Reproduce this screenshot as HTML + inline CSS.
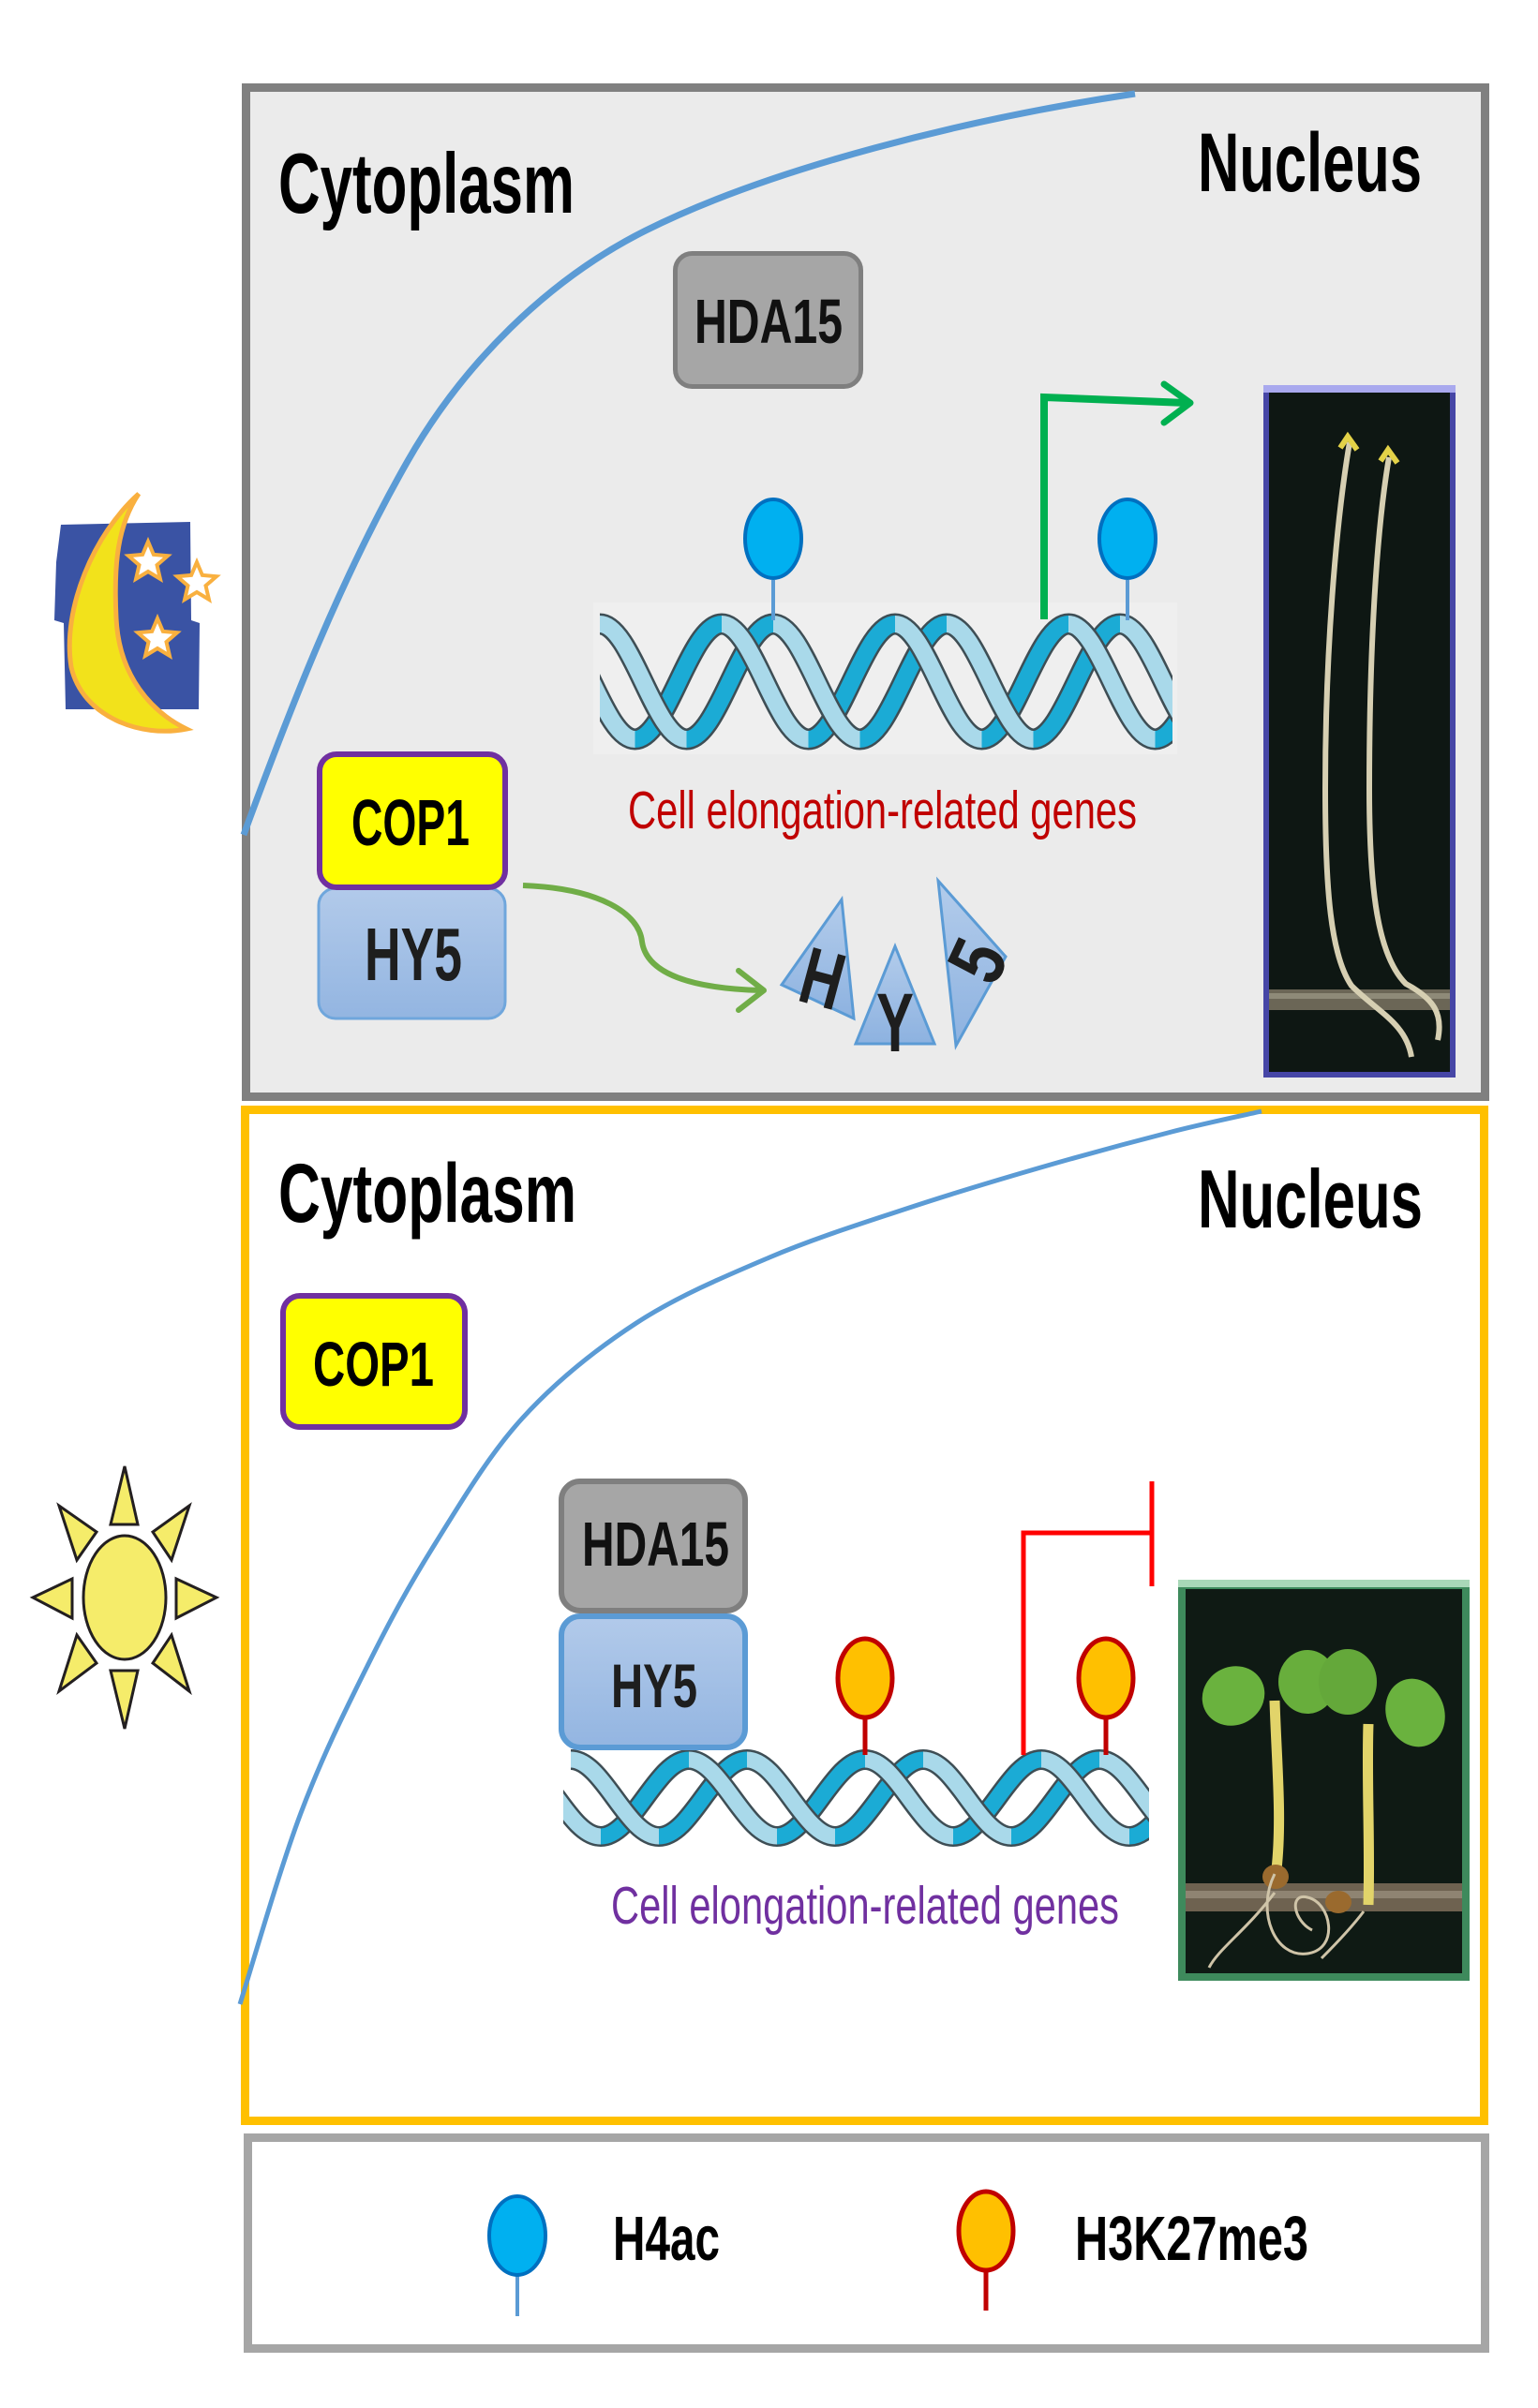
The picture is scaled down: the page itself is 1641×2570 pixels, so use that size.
<!DOCTYPE html>
<html><head><meta charset="utf-8"><style>
html,body{margin:0;padding:0;background:#fff;}
svg{display:block;}
text{font-family:"Liberation Sans",Arial,sans-serif;}
.b{font-weight:bold;}
</style></head><body>
<svg width="1641" height="2570" viewBox="0 0 1641 2570" xmlns="http://www.w3.org/2000/svg">
<defs>
<linearGradient id="hy5g" x1="0" y1="0" x2="0" y2="1"><stop offset="0" stop-color="#B2CAEA"/><stop offset="1" stop-color="#93B5E1"/></linearGradient>
<linearGradient id="trig" x1="0" y1="0" x2="0" y2="1"><stop offset="0" stop-color="#B3CCEB"/><stop offset="1" stop-color="#8DB2E0"/></linearGradient>
<clipPath id="clipTop"><rect x="640" y="640" width="611" height="170"/></clipPath>
<clipPath id="clipBot"><rect x="601" y="1860" width="625" height="115"/></clipPath>
<g id="tL" fill="none">
<path d="M585,666 C618.7,666 643.8,789 677.5,789"/>
<path d="M640,666 C673.7,666 698.8,789 732.5,789"/>
<path d="M770,666 C803.7,666 828.8,789 862.5,789"/>
<path d="M825,666 C858.7,666 883.8,789 917.5,789"/>
<path d="M955,666 C988.7,666 1013.8,789 1047.5,789"/>
<path d="M1010,666 C1043.7,666 1068.8,789 1102.5,789"/>
<path d="M1140,666 C1173.7,666 1198.8,789 1232.5,789"/>
<path d="M1195,666 C1228.7,666 1253.8,789 1287.5,789"/>
</g>
<g id="tD" fill="none">
<path d="M677.5,789 C711.2,789 736.3,666 770,666"/>
<path d="M732.5,789 C766.2,789 791.3,666 825,666"/>
<path d="M862.5,789 C896.2,789 921.3,666 955,666"/>
<path d="M917.5,789 C951.2,789 976.3,666 1010,666"/>
<path d="M1047.5,789 C1081.2,789 1106.3,666 1140,666"/>
<path d="M1102.5,789 C1136.2,789 1161.3,666 1195,666"/>
<path d="M1232.5,789 C1266.2,789 1291.3,666 1325,666"/>
</g>
<g id="bL" fill="none">
<path d="M547,1878 C581.2,1878 606.8,1960 641,1960"/>
<path d="M609,1878 C643.2,1878 668.8,1960 703,1960"/>
<path d="M735,1878 C769.2,1878 794.8,1960 829,1960"/>
<path d="M797,1878 C831.2,1878 856.8,1960 891,1960"/>
<path d="M923,1878 C957.2,1878 982.8,1960 1017,1960"/>
<path d="M985,1878 C1019.2,1878 1044.8,1960 1079,1960"/>
<path d="M1111,1878 C1145.2,1878 1170.8,1960 1205,1960"/>
<path d="M1173,1878 C1207.2,1878 1232.8,1960 1267,1960"/>
</g>
<g id="bD" fill="none">
<path d="M641,1960 C675.2,1960 700.8,1878 735,1878"/>
<path d="M703,1960 C737.2,1960 762.8,1878 797,1878"/>
<path d="M829,1960 C863.2,1960 888.8,1878 923,1878"/>
<path d="M891,1960 C925.2,1960 950.8,1878 985,1878"/>
<path d="M1017,1960 C1051.2,1960 1076.8,1878 1111,1878"/>
<path d="M1079,1960 C1113.2,1960 1138.8,1878 1173,1878"/>
<path d="M1205,1960 C1239.2,1960 1264.8,1878 1299,1878"/>
</g>
<polygon id="star" points="0,-22 5.88,-8.09 20.92,-6.8 9.51,3.09 12.93,17.8 0,10 -12.93,17.8 -9.51,3.09 -20.92,-6.8 -5.88,-8.09"/>
</defs>

<!-- ================= TOP PANEL ================= -->
<rect x="262.5" y="93.5" width="1322" height="1077" fill="#EBEBEB" stroke="#808080" stroke-width="9"/>

<!-- blue membrane curve -->
<path d="M260,891 C310,755 363,618 435,492 C493.5,389.6 583.5,298.7 689,246 C823,179 1033,126.6 1211,100" fill="none" stroke="#5B9BD5" stroke-width="7"/>

<text x="297" y="227" class="b" font-size="91" textLength="316" lengthAdjust="spacingAndGlyphs" fill="#000">Cytoplasm</text>
<text x="1278" y="204" class="b" font-size="89" textLength="239" lengthAdjust="spacingAndGlyphs" fill="#000">Nucleus</text>

<!-- HDA15 top -->
<rect x="720.5" y="270.5" width="198" height="142" rx="18" fill="#A6A6A6" stroke="#7F7F7F" stroke-width="5"/>
<text x="741" y="366" class="b" font-size="67" textLength="158" lengthAdjust="spacingAndGlyphs" fill="#111">HDA15</text>

<!-- DNA top -->
<rect x="633" y="643" width="623" height="162" fill="#EFEFEF"/>
<g clip-path="url(#clipTop)" stroke-linecap="butt">
<use href="#tD" stroke="#3E4E55" stroke-width="23"/>
<use href="#tD" stroke="#1BABD5" stroke-width="18"/>
<use href="#tL" stroke="#3E4E55" stroke-width="23"/>
<use href="#tL" stroke="#A9D9EA" stroke-width="18"/>
</g>

<!-- green activation arrow -->
<path d="M1114,661 L1114,424 L1266,430" fill="none" stroke="#00B050" stroke-width="8"/>
<path d="M1242,410 L1270,430 L1242,451" fill="none" stroke="#00B050" stroke-width="7" stroke-linecap="round" stroke-linejoin="round"/>

<!-- H4ac lollipops top -->
<line x1="825" y1="619" x2="825" y2="662" stroke="#5B9BD5" stroke-width="4"/>
<ellipse cx="825" cy="575" rx="30" ry="42" fill="#00B0F0" stroke="#0070C0" stroke-width="4"/>
<line x1="1203" y1="619" x2="1203" y2="662" stroke="#5B9BD5" stroke-width="4"/>
<ellipse cx="1203" cy="575" rx="30" ry="42" fill="#00B0F0" stroke="#0070C0" stroke-width="4"/>

<text x="670" y="884" font-size="57" textLength="543" lengthAdjust="spacingAndGlyphs" fill="#C00000">Cell elongation-related genes</text>

<!-- HY5 + COP1 top -->
<rect x="340" y="948" width="199" height="139" rx="18" fill="url(#hy5g)" stroke="#6FA6DC" stroke-width="3"/>
<text x="389" y="1046" class="b" font-size="80" textLength="104" lengthAdjust="spacingAndGlyphs" fill="#1E1E1E">HY5</text>
<rect x="341" y="805" width="198" height="142" rx="18" fill="#FFFF00" stroke="#7030A0" stroke-width="6"/>
<text x="375" y="902" class="b" font-size="70" textLength="126" lengthAdjust="spacingAndGlyphs" fill="#000">COP1</text>

<!-- curved degradation arrow -->
<path d="M558,945 C640,948 682,975 685,1005 C690,1040 740,1055 812,1057" fill="none" stroke="#70AD47" stroke-width="6"/>
<path d="M788,1036 L815,1057 L788,1078" fill="none" stroke="#70AD47" stroke-width="6" stroke-linecap="round" stroke-linejoin="round"/>

<!-- HY5 fragments -->
<polygon points="898,960 911,1087 834,1051" fill="url(#trig)" stroke="#5B9BD5" stroke-width="3"/>
<polygon points="955,1010 997,1114 913,1114" fill="url(#trig)" stroke="#5B9BD5" stroke-width="3"/>
<polygon points="1001,940 1073,1021 1020,1116" fill="url(#trig)" stroke="#5B9BD5" stroke-width="3"/>
<text transform="translate(878,1043) rotate(15)" x="0" y="31" text-anchor="middle" class="b" font-size="86" textLength="44" lengthAdjust="spacingAndGlyphs" fill="#1E1E1E">H</text>
<text x="955" y="1122" text-anchor="middle" class="b" font-size="89" textLength="40" lengthAdjust="spacingAndGlyphs" fill="#1E1E1E">Y</text>
<text transform="translate(1042,1025) rotate(-65)" x="0" y="30" text-anchor="middle" class="b" font-size="84" textLength="38" lengthAdjust="spacingAndGlyphs" fill="#1E1E1E">5</text>

<!-- top photo (dark-grown seedlings) -->
<rect x="1348" y="411" width="205" height="739" fill="#0E1713"/>
<rect x="1351" y="414" width="199" height="733" fill="none" stroke="#4646A6" stroke-width="6"/>
<rect x="1348" y="411" width="205" height="8" fill="#A9A9EE"/>
<rect x="1354" y="1056" width="193" height="22" fill="#6B6656"/>
<rect x="1354" y="1060" width="193" height="6" fill="#8E8A78"/>
<path d="M1440,472 C1425,560 1414,700 1414,842 C1414,950 1420,1020 1442,1052 C1470,1080 1500,1092 1506,1128" fill="none" stroke="#D6CFB2" stroke-width="6"/>
<path d="M1482,488 C1468,570 1461,700 1461,842 C1461,950 1470,1020 1500,1050 C1530,1066 1540,1082 1534,1110" fill="none" stroke="#D6CFB2" stroke-width="6"/>
<path d="M1430,478 L1438,466 L1448,480" fill="none" stroke="#E3D248" stroke-width="6"/>
<path d="M1473,492 L1481,480 L1491,494" fill="none" stroke="#E3D248" stroke-width="6"/>

<!-- moon icon -->
<polygon points="65,560 203,557 204,662 213,665 212,757 70,757 68,665 58,662 60,600" fill="#3A53A4"/>
<path d="M148,527 C100,570 66,650 76,712 C88,765 150,788 199,778 C162,760 127,722 124,660 C121,600 126,560 148,527 Z" fill="#F2E21B" stroke="#F9B03F" stroke-width="5"/>
<use href="#star" transform="translate(158,600)" fill="#fff" stroke="#F9B03F" stroke-width="4"/>
<use href="#star" transform="translate(168,682)" fill="#fff" stroke="#F9B03F" stroke-width="4"/>
<use href="#star" transform="translate(210,622)" fill="#fff" stroke="#F9B03F" stroke-width="4"/>

<!-- ================= BOTTOM PANEL ================= -->
<rect x="261.5" y="1184.5" width="1322" height="1079" fill="#FFFFFF" stroke="#FFC000" stroke-width="9"/>

<path d="M256,2139 C266.8,2105 298.2,1995.5 321,1935 C343.8,1874.5 369.2,1823.8 393,1776 C416.8,1728.2 436.7,1691.7 464,1648 C491.3,1604.3 521.2,1553.3 557,1514 C592.8,1474.7 635,1440.7 679,1412 C723,1383.3 773.5,1362.2 821,1342 C868.5,1321.8 916.3,1306.8 964,1291 C1011.7,1275.2 1059.3,1260.8 1107,1247 C1154.7,1233.2 1210.2,1218.2 1250,1208 C1289.8,1197.8 1330,1189.7 1346,1186" fill="none" stroke="#5B9BD5" stroke-width="5"/>

<text x="297" y="1304" class="b" font-size="89" textLength="318" lengthAdjust="spacingAndGlyphs" fill="#000">Cytoplasm</text>
<text x="1278" y="1310" class="b" font-size="88" textLength="240" lengthAdjust="spacingAndGlyphs" fill="#000">Nucleus</text>

<rect x="302" y="1383" width="194" height="140" rx="18" fill="#FFFF00" stroke="#7030A0" stroke-width="6"/>
<text x="334" y="1479" class="b" font-size="67" textLength="129" lengthAdjust="spacingAndGlyphs" fill="#000">COP1</text>

<!-- DNA bottom -->
<g clip-path="url(#clipBot)">
<use href="#bD" stroke="#3E4E55" stroke-width="22"/>
<use href="#bD" stroke="#1BABD5" stroke-width="17"/>
<use href="#bL" stroke="#3E4E55" stroke-width="22"/>
<use href="#bL" stroke="#A9D9EA" stroke-width="17"/>
</g>

<!-- HDA15 / HY5 bottom -->
<rect x="599" y="1581" width="196" height="138" rx="20" fill="#A6A6A6" stroke="#7F7F7F" stroke-width="6"/>
<text x="621" y="1671" class="b" font-size="67" textLength="157" lengthAdjust="spacingAndGlyphs" fill="#111">HDA15</text>
<rect x="599" y="1725" width="196" height="140" rx="20" fill="url(#hy5g)" stroke="#5B9BD5" stroke-width="6"/>
<text x="652" y="1822" class="b" font-size="66" textLength="92" lengthAdjust="spacingAndGlyphs" fill="#1E1E1E">HY5</text>

<!-- H3K27me3 lollipops -->
<line x1="923" y1="1833" x2="923" y2="1873" stroke="#C00000" stroke-width="5"/>
<ellipse cx="923" cy="1791" rx="29" ry="42" fill="#FFC000" stroke="#C00000" stroke-width="5"/>
<line x1="1180" y1="1833" x2="1180" y2="1873" stroke="#C00000" stroke-width="5"/>
<ellipse cx="1180" cy="1791" rx="29" ry="42" fill="#FFC000" stroke="#C00000" stroke-width="5"/>

<!-- repression line -->
<path d="M1092,1873 L1092,1636 L1229,1636" fill="none" stroke="#FF0000" stroke-width="5"/>
<line x1="1229" y1="1581" x2="1229" y2="1693" stroke="#FF0000" stroke-width="5"/>

<text x="652" y="2053" font-size="57" textLength="542" lengthAdjust="spacingAndGlyphs" fill="#7030A0">Cell elongation-related genes</text>

<!-- bottom photo (light-grown seedlings) -->
<rect x="1257" y="1686" width="311" height="428" fill="#3E8A5C"/>
<rect x="1257" y="1686" width="311" height="8" fill="#A9D8B8"/>
<rect x="1265" y="1696" width="295" height="410" fill="#0F1A14"/>
<rect x="1265" y="2010" width="295" height="30" fill="#6E6250"/>
<rect x="1265" y="2018" width="295" height="8" fill="#8F8472"/>
<path d="M1360,1815 C1362,1880 1368,1940 1362,1995" fill="none" stroke="#E2D46A" stroke-width="11"/>
<path d="M1460,1840 C1458,1900 1462,1970 1460,2033" fill="none" stroke="#E2D46A" stroke-width="11"/>
<ellipse cx="1316" cy="1810" rx="34" ry="31" transform="rotate(-30 1316 1810)" fill="#6AB23E"/>
<ellipse cx="1395" cy="1795" rx="31" ry="34" fill="#68AE3C"/>
<ellipse cx="1438" cy="1795" rx="31" ry="35" fill="#64A83A"/>
<ellipse cx="1510" cy="1828" rx="31" ry="37" transform="rotate(-20 1510 1828)" fill="#6AB23E"/>
<ellipse cx="1361" cy="2003" rx="14" ry="13" fill="#9A6A2E"/>
<ellipse cx="1428" cy="2030" rx="14" ry="12" fill="#9A6A2E"/>
<path d="M1360,2000 C1340,2040 1360,2090 1395,2085 C1430,2080 1420,2030 1395,2025 C1375,2020 1380,2050 1400,2060 M1360,2020 C1330,2060 1300,2080 1290,2100 M1455,2040 C1440,2060 1420,2080 1410,2090" fill="none" stroke="#CFC4A8" stroke-width="3"/>

<!-- sun icon -->
<g fill="#F5EC6A" stroke="#231F20" stroke-width="3" stroke-linejoin="miter">
<polygon points="133,1565 118,1627 147,1627"/>
<polygon points="133,1845 118,1783 147,1783"/>
<polygon points="35,1705 77,1685 77,1727"/>
<polygon points="231,1705 188,1685 188,1727"/>
<polygon points="63,1607 82,1665 103,1635"/>
<polygon points="202,1607 163,1635 183,1665"/>
<polygon points="63,1805 82,1745 103,1775"/>
<polygon points="202,1805 163,1775 183,1745"/>
<ellipse cx="133" cy="1705" rx="44" ry="66"/>
</g>

<!-- ================= LEGEND ================= -->
<rect x="264.5" y="2281.5" width="1320" height="225" fill="#FFFFFF" stroke="#A6A6A6" stroke-width="9"/>
<line x1="552" y1="2428" x2="552" y2="2472" stroke="#5B9BD5" stroke-width="4"/>
<ellipse cx="552" cy="2386" rx="30" ry="42" fill="#00B0F0" stroke="#0070C0" stroke-width="4"/>
<text x="654" y="2412" class="b" font-size="67" textLength="114" lengthAdjust="spacingAndGlyphs" fill="#000">H4ac</text>
<line x1="1052" y1="2423" x2="1052" y2="2466" stroke="#C00000" stroke-width="5"/>
<ellipse cx="1052" cy="2381" rx="29" ry="42" fill="#FFC000" stroke="#C00000" stroke-width="5"/>
<text x="1147" y="2412" class="b" font-size="67" textLength="249" lengthAdjust="spacingAndGlyphs" fill="#000">H3K27me3</text>
</svg>
</body></html>
